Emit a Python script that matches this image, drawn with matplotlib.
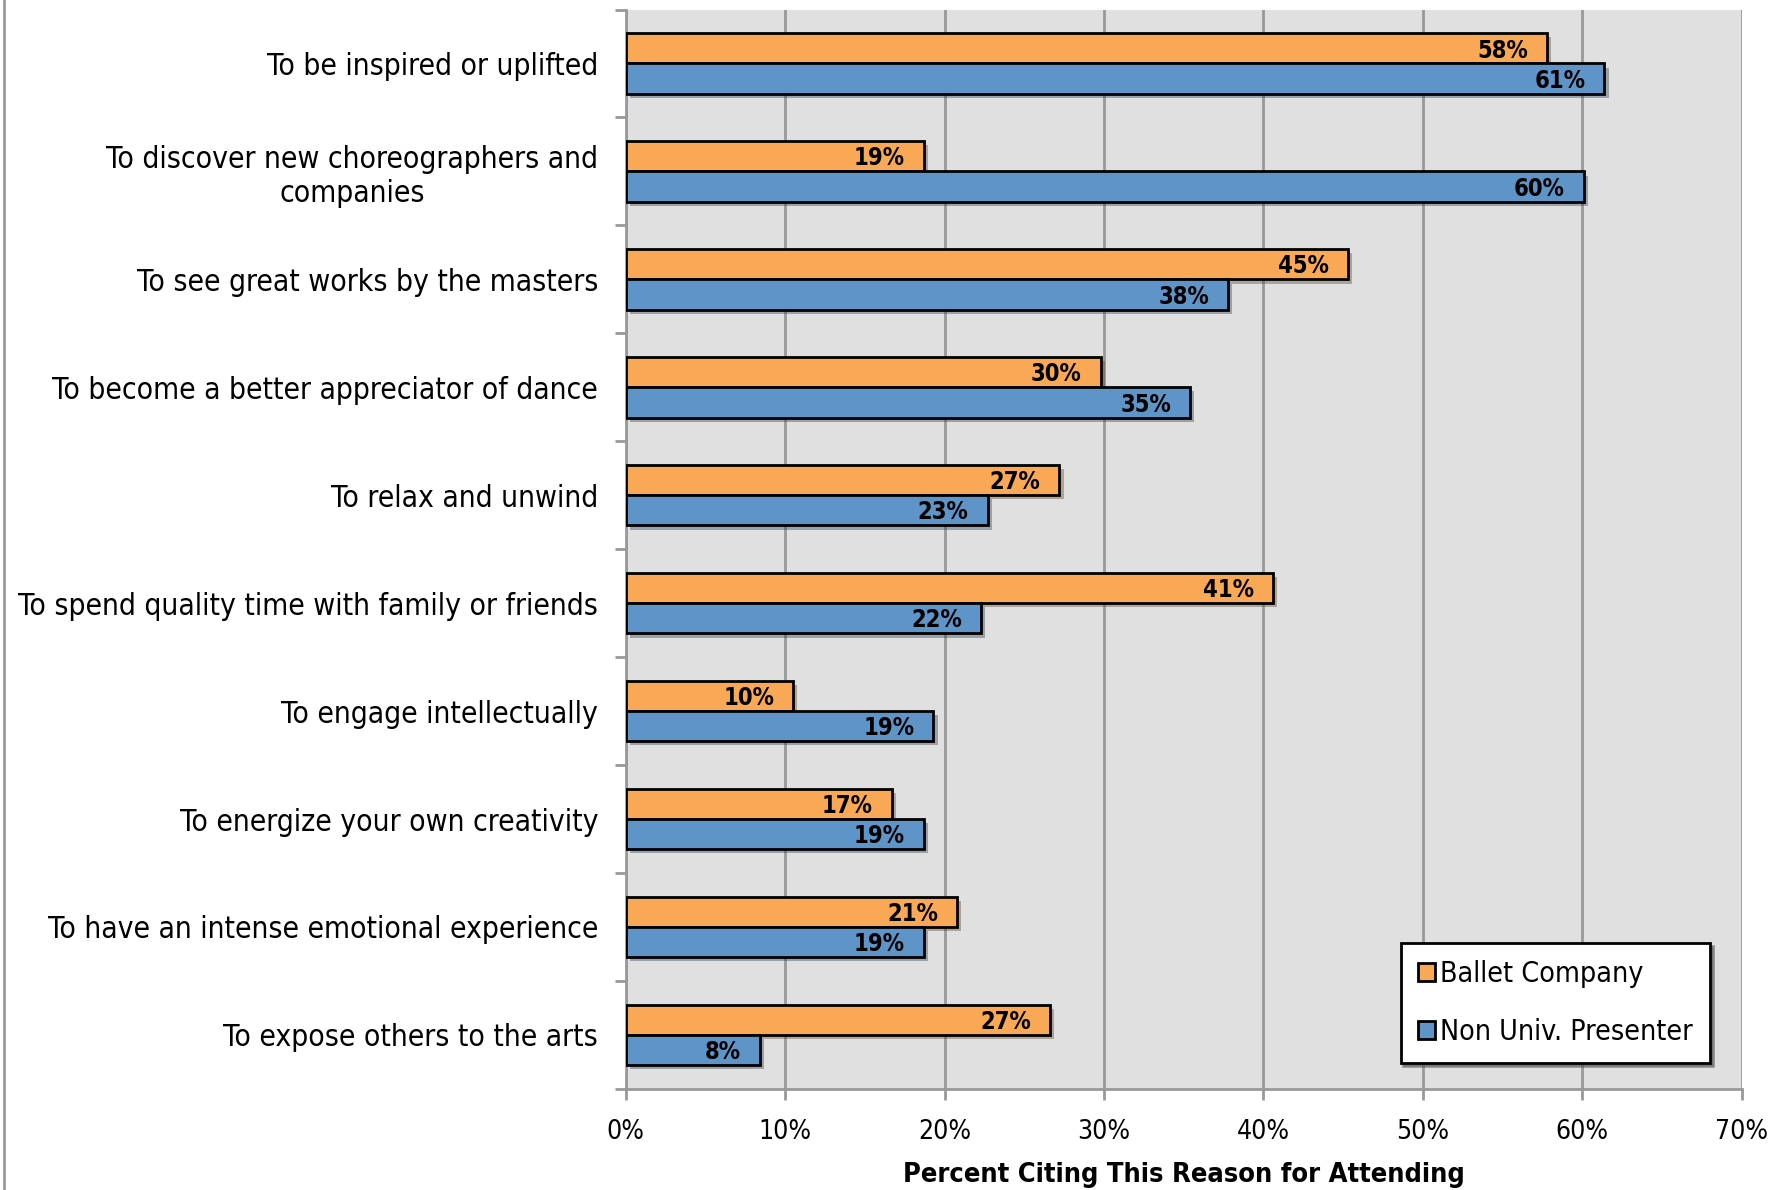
import numpy as np
import matplotlib
matplotlib.use("Agg")
import matplotlib.pyplot as plt
import matplotlib.patheffects as pe
from matplotlib.lines import Line2D

# Données
reasons = [
    "To be inspired or uplifted",
    "To discover new choreographers and\ncompanies",
    "To see great works by the masters",
    "To become a better appreciator of dance",
    "To relax and unwind",
    "To spend quality time with family or friends",
    "To engage intellectually",
    "To energize your own creativity",
    "To have an intense emotional experience",
    "To expose others to the arts",
]
ballet = [57.8, 18.7, 45.3, 29.8, 27.2, 40.6, 10.5, 16.7, 20.8, 26.6]
ballet_labels = ["58%", "19%", "45%", "30%", "27%", "41%", "10%", "17%", "21%", "27%"]
presenter = [61.4, 60.1, 37.8, 35.4, 22.7, 22.3, 19.3, 18.7, 18.7, 8.4]
presenter_labels = ["61%", "60%", "38%", "35%", "23%", "22%", "19%", "19%", "19%", "8%"]
xticks = [0, 10, 20, 30, 40, 50, 60, 70]

orange = "#F9A856"
blue = "#5E94C8"
plt.rcParams["font.family"] = ["DejaVu Sans"]
plt.rcParams["font.stretch"] = "condensed"

fig = plt.figure(figsize=(17.88, 11.9), dpi=100)
ax = fig.add_axes([0.350, 0.085, 0.624, 0.907])
ax.set_facecolor("#E0E0E0")

y = np.arange(len(reasons))
h = 0.28
shadow = [pe.SimplePatchShadow(offset=(3, -3), alpha=0.35), pe.Normal()]
b1 = ax.barh(y - h / 2, ballet, height=h, color=orange, edgecolor="black",
             linewidth=2, label="Ballet Company", zorder=3)
b2 = ax.barh(y + h / 2, presenter, height=h, color=blue, edgecolor="black",
             linewidth=2, label="Non Univ. Presenter", zorder=3)
for p in list(b1) + list(b2):
    p.set_path_effects(shadow)

for i in range(len(reasons)):
    ax.text(ballet[i] - 1.2, y[i] - h / 2 + 0.02, ballet_labels[i], ha="right",
            va="center", fontsize=17, fontweight="bold", zorder=4)
    ax.text(presenter[i] - 1.2, y[i] + h / 2 + 0.02, presenter_labels[i], ha="right",
            va="center", fontsize=17, fontweight="bold", zorder=4)

ax.set_xlim(0, 70)
ax.set_ylim(len(reasons) - 0.5, -0.5)
ax.set_xticks(xticks)
ax.set_xticklabels([f"{t}%" for t in xticks], fontsize=19)
ax.set_yticks(y)
ax.set_yticklabels(reasons, fontsize=21.5, multialignment="center")
ax.set_yticks(np.arange(len(reasons) + 1) - 0.5, minor=True)
ax.tick_params(axis="y", which="major", length=0, pad=20)
ax.tick_params(axis="y", which="minor", length=8, width=2, color="#999999")
ax.tick_params(axis="x", length=8, width=2, color="#999999", pad=14)

ax.grid(axis="x", color="#999999", linewidth=2, zorder=0)
ax.set_axisbelow(True)
for s in ["top", "right"]:
    ax.spines[s].set_visible(False)
for s in ["left", "bottom"]:
    ax.spines[s].set_color("#999999")
    ax.spines[s].set_linewidth(2)

ax.set_xlabel("Percent Citing This Reason for Attending", fontsize=19.5,
              fontweight="bold", labelpad=12)

leg = ax.legend(loc="lower right", bbox_to_anchor=(0.972, 0.024), borderaxespad=0,
                fontsize=20.5, fancybox=False, shadow=True, edgecolor="black",
                framealpha=1, labelspacing=1.05, handlelength=0.6, handleheight=0.6,
                handletextpad=0.2, borderpad=0.6)
leg.get_frame().set_linewidth(2)
for hnd in leg.legend_handles:
    hnd.set_path_effects([])

# bordure gauche de l'image
fig.add_artist(Line2D([0.002, 0.002], [0, 1], color="#999999", linewidth=2,
                      transform=fig.transFigure))

fig.savefig("out.png", dpi=100)
